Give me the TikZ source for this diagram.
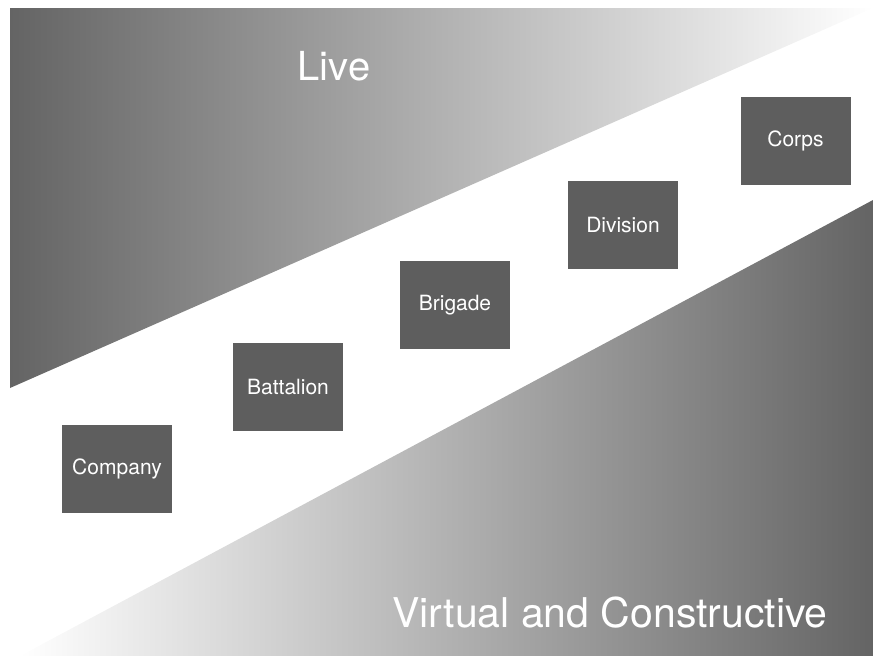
\documentclass[tikz,border=0pt]{standalone}
\usepackage{fontspec}
\setmainfont{TeX Gyre Heros}
\usepackage{tikz}
\definecolor{boxgray}{RGB}{94,94,94}
\definecolor{shadegray}{RGB}{100,100,100}
\tikzset{
  unitbox/.style={fill=boxgray, text=white, minimum width=110pt, minimum height=88pt, inner sep=0pt, font=\fontsize{21}{25}\selectfont},
  bigtext/.style={text=white, anchor=base, inner sep=0pt}
}

\begin{document}
\begin{tikzpicture}[x=1pt,y=-1pt]
      \useasboundingbox (0,0) rectangle (873,656);
      % the two shaded wedges
      \shade[left color=shadegray, right color=white] (10,8) -- (873,8) -- (10,388) -- cycle;
      \shade[left color=white, right color=shadegray] (873,200) -- (873,656) -- (20,656) -- cycle;
      \node[bigtext, font=\fontsize{40}{46}\selectfont] (live) at (334,80) {Live};
      \node[bigtext, font=\fontsize{41}{48}\selectfont] (vc) at (610,627) {Virtual and Constructive};
      % the echelons
      \node[unitbox] (company) at (117,469) {Company};
      \node[unitbox] (battalion) at (288,387) {Battalion};
      \node[unitbox] (brigade) at (455,305) {Brigade};
      \node[unitbox] (division) at (623,224.5) {Division};
      \node[unitbox] (corps) at (795.5,141) {Corps};
\end{tikzpicture}
\end{document}
